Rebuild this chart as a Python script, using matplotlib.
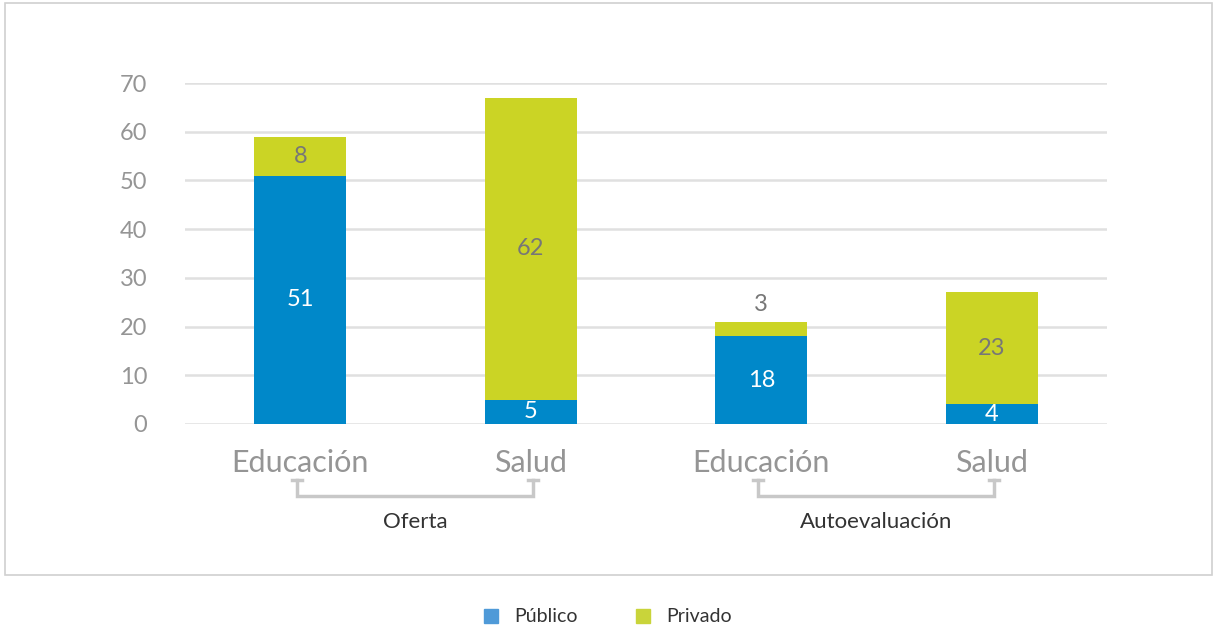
import numpy as np
import matplotlib.pyplot as plt
from matplotlib.patches import Rectangle, Patch

plt.rcParams['font.family'] = ['Lato', 'DejaVu Sans']

categories = ["Educación", "Salud", "Educación", "Salud"]
groups = ["Oferta", "Autoevaluación"]
publico = [51, 5, 18, 4]
privado = [8, 62, 3, 23]

blue = '#0088c9'
green = '#cbd425'
grey = '#959595'

fig = plt.figure(figsize=(12.13, 6.27), dpi=100)
fig.patches.append(Rectangle((0.0041, 0.0829), 0.9950, 0.9123, transform=fig.transFigure,
                             fill=False, edgecolor='#d0d0d0', linewidth=1.2))
ax = fig.add_axes([0.1525, 0.3238, 0.7601, 0.5438])

xpos = np.arange(len(categories))
width = 0.4
ax.bar(xpos, publico, width=width, color=blue, zorder=3)
ax.bar(xpos, privado, width=width, bottom=publico, color=green, zorder=3)

# data labels
for x, p, q in zip(xpos, publico, privado):
    ax.text(x, p / 2, str(p), ha='center', va='center', color='white',
            fontsize=17, zorder=4)
    if q >= 5:
        ax.text(x, p + q / 2, str(q), ha='center', va='center', color='#777777',
                fontsize=17, zorder=4)
    else:
        ax.text(x, p + q + 3.6, str(q), ha='center', va='center', color='#777777',
                fontsize=17, zorder=4)

ax.set_xlim(-0.5, 3.5)
ax.set_ylim(0, 70)
ax.set_yticks(range(0, 71, 10))
ax.grid(axis='y', color='#e0e0e0', linewidth=1.8, zorder=0)
for s in ax.spines.values():
    s.set_visible(False)
ax.tick_params(axis='both', length=0)
ax.tick_params(axis='y', labelsize=17, labelcolor=grey, pad=27)
ax.set_xticks(xpos)
ax.set_xticklabels(categories, fontsize=22, color=grey)
ax.tick_params(axis='x', pad=18)

# group brackets
trans = ax.get_xaxis_transform()
bcol = '#c8c8c8'
for gi, name in enumerate(groups):
    x0, x1 = xpos[2 * gi] - 0.015, xpos[2 * gi + 1] + 0.01
    ax.plot([x0, x0, x1, x1], [-0.165, -0.211, -0.211, -0.165], color=bcol,
            linewidth=2.5, transform=trans, clip_on=False, solid_joinstyle='miter')
    for xx in (x0, x1):
        ax.plot([xx - 0.022, xx + 0.022], [-0.165, -0.165], color=bcol, linewidth=2.5,
                transform=trans, clip_on=False)
    ax.text((x0 + x1) / 2, -0.287, name, transform=trans, ha='center', va='center',
            fontsize=16, color='#333333')

handles = [Patch(color='#4f9ad8', label='Público'), Patch(color='#c9d43a', label='Privado')]
fig.legend(handles=handles, loc='center', bbox_to_anchor=(0.501, 0.0160), ncol=2,
           frameon=False, fontsize=14, handlelength=0.75, handleheight=0.75,
           columnspacing=3.0, handletextpad=0.8, labelcolor='#333333')

fig.savefig('out.png', dpi=100)
